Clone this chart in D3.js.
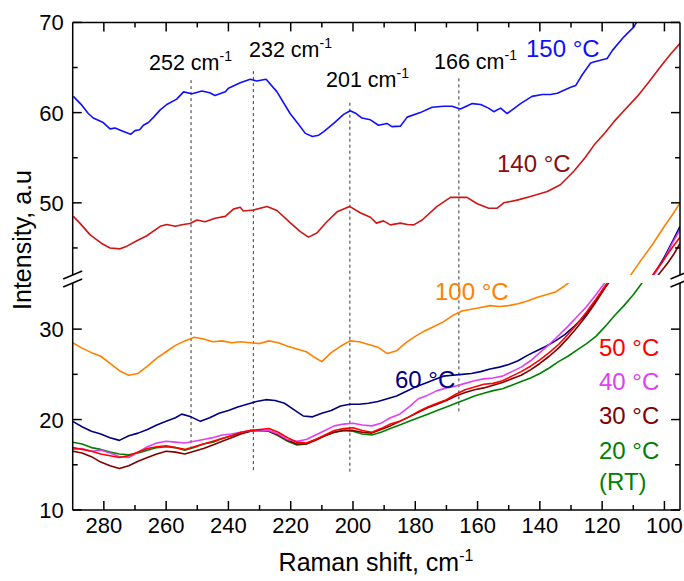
<!DOCTYPE html>
<html>
<head>
<meta charset="utf-8">
<script src="https://cdn.jsdelivr.net/npm/d3@7"></script>
<style>
  body { margin: 0; background: #fff; }
  svg { font-family: "Liberation Sans", Arial, sans-serif; }
</style>
</head>
<body>
<svg id="chart" width="684" height="581"></svg>
<script>
// ---- data (Raman shift in cm-1, intensity in a.u.) ----
var s150 = [[289.8,61.8],[287,60.8],[285,59.9],[283.4,59.4],[280.2,58.9],[278,58.2],[276.4,58.3],[274.3,58.0],[271.4,57.6],[270,58.0],[268.5,58.1],[267.3,58.6],[265.7,58.9],[264,59.5],[261.9,60.3],[259.8,60.9],[256.6,61.5],[254.4,62.3],[251.7,62.1],[248.5,62.4],[246,62.2],[244.3,61.9],[241,62.3],[240,62.7],[236.2,63.3],[233,63.7],[230.9,63.5],[227.9,63.7],[224.4,62.3],[220.2,59.9],[217.5,58.7],[215.3,57.7],[213,57.35],[211,57.5],[209.4,57.9],[206.2,58.8],[203,59.8],[200.9,60.2],[199,59.9],[197.1,59.4],[194.4,59.2],[191.8,58.6],[189.1,58.8],[187.5,58.45],[184.8,58.5],[182.6,59.5],[178.4,60.0],[174.6,60.6],[170.9,60.7],[168.2,60.7],[165.5,60.4],[161.7,61.0],[159,60.9],[156.5,60.5],[154.8,60.1],[152.6,60.5],[150.5,59.9],[146.2,61.0],[142.5,61.8],[139.2,62.0],[136.6,62.0],[134.4,62.15],[130.1,62.8],[128.5,63.0],[126.4,64.2],[123.7,65.5],[122.7,65.6],[118.4,66.0],[116.7,66.9],[113,68.4],[109.8,69.5],[108.5,70.3]];
var s140 = [[289.8,48.5],[287.7,47.75],[284.4,46.45],[280.7,45.5],[278,45.0],[274.8,44.9],[272.6,45.2],[269.4,45.8],[266.2,46.35],[261.9,47.4],[259.8,47.6],[257.1,47.4],[254.5,47.6],[252.3,47.7],[250.1,48.1],[247.5,47.9],[244.3,48.3],[241,48.5],[238.4,49.3],[236.2,49.5],[235.2,49.1],[231.9,49.2],[227.6,49.6],[224.4,49.15],[220.2,47.8],[216.9,46.8],[214.3,46.2],[211.6,46.65],[208.4,47.9],[205.1,49.0],[201.1,49.6],[197.7,48.9],[194.4,48.4],[192.5,47.75],[190.2,48.0],[188,47.56],[184.8,47.75],[182.5,47.6],[180.5,47.56],[177.8,48.1],[173,49.6],[168.7,50.6],[163.4,50.6],[160.1,49.9],[156.4,49.4],[153.7,49.4],[151.6,50.0],[147.3,50.3],[143,50.7],[137.6,51.25],[133.4,52.0],[129.1,53.5],[125.5,55.0],[122.6,56.4],[119,57.8],[116.2,59.0],[112.5,60.4],[108.7,61.8],[105,63.4],[101.2,65.1],[98,66.5],[94.9,67.7]];
var s100 = [[290,28.5],[287,27.9],[284,27.4],[281,27.0],[278,26.2],[275,25.4],[272,24.9],[269,25.1],[266,25.9],[263,26.8],[260,27.5],[257,28.2],[254,28.7],[251,29.1],[248,28.9],[245,28.6],[242,28.7],[239,28.5],[236,28.6],[233,28.5],[230,28.4],[227,28.7],[224,28.5],[221,28.1],[218,27.8],[215,27.5],[212,26.8],[210,26.4],[207,27.4],[204,28.1],[201,28.7],[198,28.6],[195,28.3],[192,28.0],[189,27.3],[186,27.6],[183,28.5],[180,29.2],[177,29.8],[174,30.3],[171,30.8],[168,31.5],[165,32.0],[162,32.2],[159,32.4],[156,32.6],[153,32.5],[150,32.6],[147,32.8],[144,33.1],[141,33.5],[138,33.8],[135,34.1],[132,34.8],[129,35.6],[125,36.9],[120,38.5],[115,40.3],[111,41.9],[108,43.4],[104,45.3],[100,47.4],[97,48.9],[95,50.0]];
var s60 = [[290,19.8],[287,19.2],[284,18.7],[281,18.4],[278,18.0],[275,17.7],[272,18.2],[269,18.5],[266,18.9],[263,19.4],[260,19.8],[257,20.2],[255,20.6],[252,20.3],[249,19.8],[246,20.2],[243,20.7],[240,21.0],[237,21.4],[234,21.7],[231,22.0],[228,22.2],[225,22.1],[222,21.8],[219,21.1],[216,20.4],[213,20.3],[210,20.7],[207,21.0],[204,21.5],[201,21.7],[198,21.7],[195,21.8],[192,22.0],[189,22.3],[186,22.6],[183,23.1],[180,23.6],[177,24.0],[174,24.4],[171,24.8],[168,24.9],[165,25.0],[162,25.1],[159,25.3],[156,25.6],[153,25.8],[150,26.1],[147,26.5],[144,27.1],[141,27.6],[138,28.1],[135,28.7],[132,29.4],[129,30.3],[126,31.3],[123,32.6],[120,34.2],[117,35.8],[114,37.2],[110,39.0],[106,40.8],[103,42.3],[100,44.0],[97,46.0],[95,47.4]];
var s50 = [[290,16.9],[287,16.7],[284,16.5],[281,16.2],[278,16.0],[275,15.8],[272,16.0],[269,16.4],[266,16.8],[263,17.0],[260,17.1],[257,16.9],[254,16.7],[251,17.0],[248,17.3],[245,17.6],[242,17.9],[239,18.2],[236,18.6],[233,18.8],[230,18.9],[227,19.0],[224,18.6],[221,18.0],[218,17.5],[215,17.4],[212,17.8],[209,18.3],[206,18.8],[203,19.0],[200,19.1],[197,18.8],[194,18.6],[191,19.0],[188,19.5],[185,19.8],[182,20.3],[179,20.9],[176,21.4],[173,21.8],[170,22.2],[167,22.8],[164,23.3],[161,23.6],[158,23.9],[155,24.0],[152,24.3],[149,24.8],[146,25.3],[143,25.9],[140,26.6],[137,27.4],[134,28.3],[131,29.4],[128,30.6],[125,31.9],[122,33.3],[119,34.8],[116,36.2],[112,38.2],[108,40.2],[104,41.9],[101,43.3],[98,44.8],[95,46.2]];
var s40 = [[290,16.7],[287,16.8],[284,16.5],[281,16.6],[278,16.3],[275,15.9],[272,15.8],[269,16.4],[266,17.0],[263,17.4],[260,17.6],[257,17.5],[254,17.4],[251,17.6],[248,17.8],[245,18.0],[242,18.3],[239,18.4],[236,18.6],[233,18.8],[230,18.7],[227,18.8],[224,18.4],[221,17.8],[218,17.6],[215,17.8],[212,18.3],[209,18.8],[206,19.3],[203,19.5],[200,19.6],[197,19.4],[194,19.3],[191,19.6],[188,20.2],[185,20.6],[182,21.4],[179,22.3],[176,22.7],[173,23.2],[170,23.5],[167,23.7],[164,24.0],[161,24.3],[158,24.5],[155,24.6],[152,24.8],[149,25.3],[146,25.8],[143,26.5],[140,27.4],[137,28.3],[134,29.3],[131,30.3],[128,31.4],[125,32.5],[122,33.8],[119,35.2],[115,37.0],[111,39.0],[107,40.8],[103,42.2],[100,43.8],[97,45.8],[95,47.0]];
var s30 = [[290,16.5],[287,16.3],[284,15.9],[281,15.3],[278,14.9],[275,14.6],[272,14.9],[269,15.4],[266,15.8],[263,16.2],[260,16.5],[257,16.4],[254,16.2],[251,16.5],[248,16.8],[245,17.2],[242,17.6],[239,18.0],[236,18.4],[233,18.7],[230,18.8],[227,18.7],[224,18.3],[221,17.7],[218,17.3],[215,17.3],[212,17.7],[209,18.2],[206,18.6],[203,18.8],[200,18.8],[197,18.6],[194,18.5],[191,18.9],[188,19.3],[185,19.8],[182,20.3],[179,20.8],[176,21.3],[173,21.7],[170,22.1],[167,22.6],[164,23.0],[161,23.3],[158,23.5],[155,23.8],[152,24.1],[149,24.5],[146,24.9],[143,25.5],[140,26.2],[137,27.0],[134,27.9],[131,29.0],[128,30.2],[125,31.5],[122,33.0],[119,34.6],[116,36.0],[112,38.0],[107,40.3],[102,42.0],[99,43.3],[97,44.3],[95,45.5]];
var s20 = [[290,17.5],[287,17.3],[284,16.9],[281,16.7],[278,16.4],[275,16.2],[272,16.1],[269,16.3],[266,16.6],[263,16.9],[260,17.0],[257,16.9],[254,16.6],[251,16.9],[248,17.3],[245,17.5],[242,17.9],[239,18.2],[236,18.5],[233,18.7],[230,18.8],[227,18.7],[224,18.2],[221,17.6],[218,17.2],[215,17.3],[212,17.8],[209,18.2],[206,18.6],[203,18.8],[200,18.7],[197,18.4],[194,18.3],[191,18.6],[188,19.0],[185,19.4],[182,19.8],[179,20.2],[176,20.6],[173,21.0],[170,21.4],[167,21.8],[164,22.2],[161,22.6],[158,22.9],[155,23.2],[152,23.4],[149,23.8],[146,24.2],[143,24.6],[140,25.1],[137,25.7],[134,26.4],[131,27.0],[128,27.7],[125,28.4],[122,29.2],[119,30.3],[116,31.5],[113,32.6],[110,33.8],[107,35.2],[103,37.0],[99,39.0],[95,41.0]];

var peaks = [252, 232, 201, 166];
var peakTop = [63.6, 64.6, 61.1, 63.8];     // upper-segment value where the dashed line starts
var peakBottom = [17.0, 14.2, 14.2, 20.8];  // lower-segment value where it ends

var xTicks = [280, 260, 240, 220, 200, 180, 160, 140, 120, 100];
var xMinor = [270, 250, 230, 210, 190, 170, 150, 130, 110];
var yUpTicks = [50, 60, 70];
var yUpMinor = [45, 55, 65];
var yLowTicks = [10, 20, 30];
var yLowMinor = [15, 25];

var series = [
  {name: "150 °C", data: s150, color: "#1010ff"},
  {name: "140 °C", data: s140, color: "#d01515"},
  {name: "100 °C", data: s100, color: "#ff8000"},
  {name: "60 °C",  data: s60,  color: "#000080"},
  {name: "20 °C",  data: s20,  color: "#008000"},
  {name: "30 °C",  data: s30,  color: "#800000"},
  {name: "40 °C",  data: s40,  color: "#e040f0"},
  {name: "50 °C",  data: s50,  color: "#ff0000"}
];

// ---- layout ----
var L = 72.7, R = 680, T = 22.4, B = 510;
var upBottom = 275, lowTop = 283;

var svg = d3.select("#chart");

var x = d3.scaleLinear().domain([290, 95]).range([L, R]);
var yUp = d3.scaleLinear().domain([42, 70]).range([upBottom, T]);
var yLow = d3.scaleLinear().domain([10, 35.1]).range([B, lowTop]);

var defs = svg.append("defs");
defs.append("clipPath").attr("id", "clipUp").append("rect")
  .attr("x", L).attr("y", T).attr("width", R - L).attr("height", upBottom - T);
defs.append("clipPath").attr("id", "clipLow").append("rect")
  .attr("x", L).attr("y", lowTop).attr("width", R - L).attr("height", B - lowTop);

// dashed peak markers
svg.append("g").selectAll("line")
  .data(peaks)
  .enter().append("line")
  .attr("x1", d => x(d)).attr("x2", d => x(d))
  .attr("y1", (d, i) => yUp(peakTop[i]))
  .attr("y2", (d, i) => yLow(peakBottom[i]))
  .attr("stroke", "#333")
  .attr("stroke-width", 1)
  .attr("stroke-dasharray", "3,3");

// each spectrum drawn twice: once per axis segment, clipped
var lineUp = d3.line().x(d => x(d[0])).y(d => yUp(d[1]));
var lineLow = d3.line().x(d => x(d[0])).y(d => yLow(d[1]));

var gUp = svg.append("g").attr("clip-path", "url(#clipUp)");
var gLow = svg.append("g").attr("clip-path", "url(#clipLow)");

gUp.selectAll("path").data(series).enter().append("path")
  .attr("d", d => lineUp(d.data))
  .attr("fill", "none").attr("stroke", d => d.color).attr("stroke-width", 1.6)
  .attr("stroke-linejoin", "round");
gLow.selectAll("path").data(series).enter().append("path")
  .attr("d", d => lineLow(d.data))
  .attr("fill", "none").attr("stroke", d => d.color).attr("stroke-width", 1.6)
  .attr("stroke-linejoin", "round");

// ---- frame and ticks ----
var axisG = svg.append("g").attr("stroke", "#000").attr("stroke-width", 1.5).attr("fill", "none");
axisG.append("line").attr("x1", L).attr("x2", R).attr("y1", T).attr("y2", T);
axisG.append("line").attr("x1", L).attr("x2", R).attr("y1", B).attr("y2", B);
[L, R].forEach(function(xx) {
  axisG.append("line").attr("x1", xx).attr("x2", xx).attr("y1", T).attr("y2", upBottom);
  axisG.append("line").attr("x1", xx).attr("x2", xx).attr("y1", lowTop).attr("y2", B);
  // break marks
  [0, 8].forEach(function(off) {
    axisG.append("line")
      .attr("x1", xx - 9.5).attr("y1", upBottom + 4 + off)
      .attr("x2", xx + 9.5).attr("y2", upBottom - 4 + off);
  });
});

var MAJ = 9, MIN = 5;
// x ticks top and bottom, pointing inward
xTicks.concat(xMinor).forEach(function(v) {
  var len = xTicks.includes(v) ? MAJ : MIN;
  axisG.append("line").attr("x1", x(v)).attr("x2", x(v)).attr("y1", B).attr("y2", B - len);
  axisG.append("line").attr("x1", x(v)).attr("x2", x(v)).attr("y1", T).attr("y2", T + len);
});
// y ticks left and right
function yTick(yy, len) {
  axisG.append("line").attr("x1", L).attr("x2", L + len).attr("y1", yy).attr("y2", yy);
  axisG.append("line").attr("x1", R).attr("x2", R - len).attr("y1", yy).attr("y2", yy);
}
yUpTicks.forEach(v => yTick(yUp(v), MAJ));
yUpMinor.forEach(v => yTick(yUp(v), MIN));
yLowTicks.forEach(v => yTick(yLow(v), MAJ));
yLowMinor.forEach(v => yTick(yLow(v), MIN));

// tick labels
var lab = svg.append("g").attr("font-size", 22).attr("fill", "#000");
lab.selectAll(".xl").data(xTicks).enter().append("text")
  .attr("x", d => x(d)).attr("y", B + 23).attr("text-anchor", "middle").text(d => d);
lab.selectAll(".yu").data(yUpTicks).enter().append("text")
  .attr("x", L - 9).attr("y", d => yUp(d) + 8).attr("text-anchor", "end").text(d => d);
lab.selectAll(".yl").data(yLowTicks).enter().append("text")
  .attr("x", L - 9).attr("y", d => yLow(d) + 8).attr("text-anchor", "end").text(d => d);

// axis titles
var xt = svg.append("text").attr("x", 376).attr("y", 571).attr("text-anchor", "middle")
  .attr("font-size", 25).text("Raman shift, cm");
xt.append("tspan").attr("font-size", 16).attr("dy", -10).text("-1");

svg.append("text").attr("transform", "translate(31,240) rotate(-90)")
  .attr("text-anchor", "middle").attr("font-size", 25).text("Intensity, a.u");

// peak labels
var peakLabels = [
  {t: "252 cm", x: 149, y: 70},
  {t: "232 cm", x: 249, y: 57},
  {t: "201 cm", x: 326, y: 87},
  {t: "166 cm", x: 434, y: 69}
];
peakLabels.forEach(function(p) {
  var t = svg.append("text").attr("x", p.x).attr("y", p.y).attr("font-size", 21.5).text(p.t);
  t.append("tspan").attr("font-size", 14).attr("dy", -9).text("-1");
});

// temperature labels
var tempLabels = [
  {t: "150 °C", x: 526, y: 57, c: "#1010ff"},
  {t: "140 °C", x: 497, y: 172, c: "#8b0c0c"},
  {t: "100 °C", x: 435, y: 300, c: "#ff8000"},
  {t: "60 °C", x: 395, y: 388, c: "#000080"},
  {t: "50 °C", x: 599, y: 356, c: "#ff0000"},
  {t: "40 °C", x: 599, y: 390, c: "#e040f0"},
  {t: "30 °C", x: 599, y: 424, c: "#800000"},
  {t: "20 °C", x: 599, y: 459, c: "#008000"},
  {t: "(RT)", x: 599, y: 490, c: "#008000"}
];
svg.append("g").selectAll("text").data(tempLabels).enter().append("text")
  .attr("x", d => d.x).attr("y", d => d.y).attr("font-size", 24)
  .attr("fill", d => d.c).text(d => d.t);
</script>
</body>
</html>
